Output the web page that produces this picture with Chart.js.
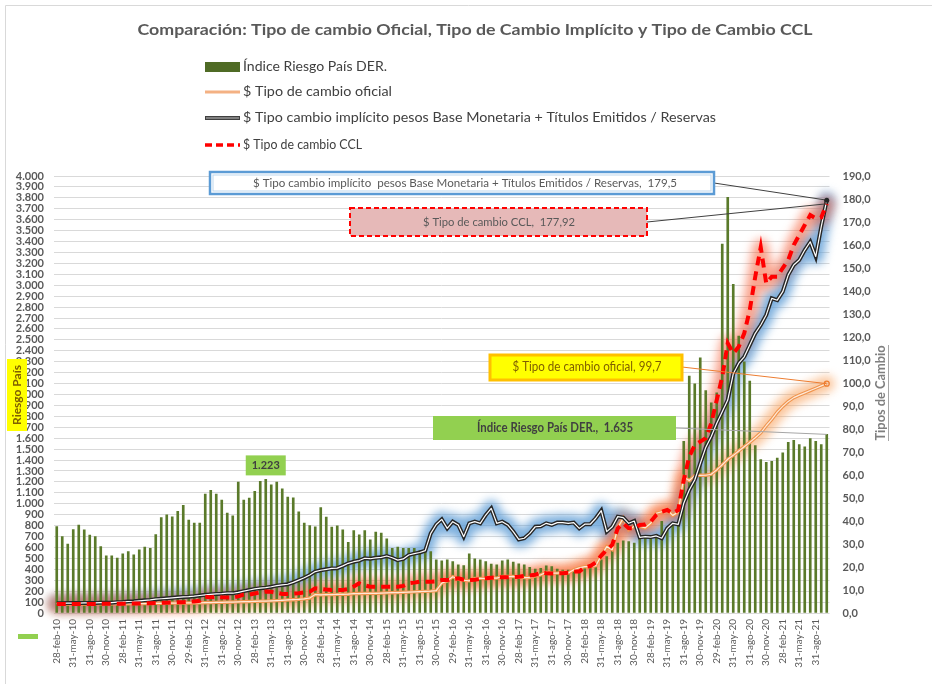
<!DOCTYPE html>
<html lang="es">
<head>
  <meta charset="UTF-8">
  <title>Comparación: Tipo de cambio Oficial, Implícito y CCL</title>
  <script src="https://cdn.jsdelivr.net/npm/chart.js@4.4.1/dist/chart.umd.min.js"></script>
  <style>
    body {
      margin: 0;
      background: #ffffff;
    }
  </style>
</head>
<body>
  <canvas id="chart" width="932" height="684"></canvas>

  <script>
    // Fechas (fin de mes)
    const fechas = [
      '28-feb-10','31-mar-10','30-abr-10','31-may-10','30-jun-10','31-jul-10','31-ago-10','30-sep-10','31-oct-10','30-nov-10','31-dic-10',
      '31-ene-11','28-feb-11','31-mar-11','30-abr-11','31-may-11','30-jun-11','31-jul-11','31-ago-11','30-sep-11','31-oct-11','30-nov-11','31-dic-11',
      '31-ene-12','29-feb-12','31-mar-12','30-abr-12','31-may-12','30-jun-12','31-jul-12','31-ago-12','30-sep-12','31-oct-12','30-nov-12','31-dic-12',
      '31-ene-13','28-feb-13','31-mar-13','30-abr-13','31-may-13','30-jun-13','31-jul-13','31-ago-13','30-sep-13','31-oct-13','30-nov-13','31-dic-13',
      '31-ene-14','28-feb-14','31-mar-14','30-abr-14','31-may-14','30-jun-14','31-jul-14','31-ago-14','30-sep-14','31-oct-14','30-nov-14','31-dic-14',
      '31-ene-15','28-feb-15','31-mar-15','30-abr-15','31-may-15','30-jun-15','31-jul-15','31-ago-15','30-sep-15','31-oct-15','30-nov-15','31-dic-15',
      '31-ene-16','29-feb-16','31-mar-16','30-abr-16','31-may-16','30-jun-16','31-jul-16','31-ago-16','30-sep-16','31-oct-16','30-nov-16','31-dic-16',
      '31-ene-17','28-feb-17','31-mar-17','30-abr-17','31-may-17','30-jun-17','31-jul-17','31-ago-17','30-sep-17','31-oct-17','30-nov-17','31-dic-17',
      '31-ene-18','28-feb-18','31-mar-18','30-abr-18','31-may-18','30-jun-18','31-jul-18','31-ago-18','30-sep-18','31-oct-18','30-nov-18','31-dic-18',
      '31-ene-19','28-feb-19','31-mar-19','30-abr-19','31-may-19','30-jun-19','31-jul-19','31-ago-19','30-sep-19','31-oct-19','30-nov-19','31-dic-19',
      '31-ene-20','29-feb-20','31-mar-20','30-abr-20','31-may-20','30-jun-20','31-jul-20','31-ago-20','30-sep-20','31-oct-20','30-nov-20','31-dic-20',
      '31-ene-21','28-feb-21','31-mar-21','30-abr-21','31-may-21','30-jun-21','31-jul-21','31-ago-21','30-sep-21','31-oct-21'
    ];

    // Índice Riesgo País DER. (eje izquierdo)
    const riesgoPais = [
      790, 700, 630, 764, 804, 761, 713, 700, 608, 523, 523,
      502, 541, 562, 532, 578, 603, 593, 718, 874, 899, 881, 930,
      985, 850, 823, 823, 1089, 1122, 1089, 1034, 914, 890, 1199, 1034,
      1052, 1113, 1205, 1223, 1174, 1199, 1137, 1061, 1055, 927, 823, 801,
      789, 966, 878, 786, 798, 761, 648, 755, 716, 755, 670, 740,
      731, 679, 593, 603, 593, 593, 593, 572, 578, 563, 486, 477,
      486, 471, 440, 434, 541, 495, 486, 471, 447, 440, 477, 486,
      465, 450, 440, 419, 401, 410, 431, 425, 401, 394, 394, 388,
      394, 410, 425, 440, 486, 517, 569, 639, 661, 654, 639, 680,
      690, 680, 720, 838, 780, 823, 800, 1572, 2168, 2098, 2336, 2037,
      1924, 2015, 3376, 3804, 3009, 2535, 2300, 2122, 1532, 1404, 1379, 1388,
      1419, 1465, 1563, 1581, 1541, 1520, 1596, 1572, 1541, 1635
    ];

    // $ Tipo de cambio oficial (eje derecho)
    const tcOficial = [
      3.86, 3.88, 3.89, 3.92, 3.93, 3.94, 3.95, 3.96, 3.96, 3.98, 3.98,
      4.01, 4.03, 4.05, 4.08, 4.09, 4.11, 4.13, 4.20, 4.21, 4.23, 4.28, 4.30,
      4.35, 4.37, 4.38, 4.42, 4.47, 4.52, 4.60, 4.65, 4.70, 4.76, 4.83, 4.92,
      4.98, 5.04, 5.12, 5.18, 5.28, 5.39, 5.51, 5.67, 5.79, 5.91, 6.14, 6.52,
      8.02, 7.88, 8.00, 8.00, 8.08, 8.13, 8.17, 8.41, 8.46, 8.50, 8.54, 8.55,
      8.64, 8.73, 8.82, 8.90, 8.99, 9.09, 9.18, 9.30, 9.42, 9.53, 9.72, 13.01,
      13.90, 15.78, 14.70, 14.25, 13.99, 15.04, 15.06, 15.00, 15.31, 15.18, 15.85, 15.85,
      15.91, 15.55, 15.39, 15.42, 16.07, 16.60, 17.67, 17.32, 17.33, 17.62, 17.40, 18.77,
      19.65, 20.14, 20.15, 20.54, 24.96, 28.85, 27.53, 37.07, 41.25, 36.16, 37.71, 37.70,
      37.04, 39.04, 43.35, 44.01, 44.87, 42.45, 43.87, 59.13, 57.59, 59.73, 59.88, 59.89,
      60.33, 62.22, 64.47, 66.84, 68.54, 70.46, 72.32, 74.19, 76.18, 78.32, 81.41, 84.15,
      87.30, 89.82, 91.99, 93.64, 94.72, 95.72, 96.71, 97.72, 98.74, 99.72
    ];

    // $ Tipo cambio implícito (Base Monetaria + Títulos Emitidos / Reservas)
    const tcImplicito = [
      4.2, 4.2, 4.3, 4.3, 4.3, 4.4, 4.4, 4.4, 4.5, 4.5, 4.5,
      4.7, 4.8, 5.0, 5.1, 5.3, 5.5, 5.7, 6.0, 6.2, 6.4, 6.6, 6.8,
      7.0, 7.1, 7.3, 7.6, 7.9, 8.1, 8.3, 8.4, 8.6, 8.6, 9.0, 9.5,
      10.0, 10.5, 10.8, 11.0, 11.4, 11.9, 12.2, 12.5, 13.3, 14.3, 15.3, 16.5,
      18.0, 18.6, 19.0, 19.4, 19.5, 20.5, 21.6, 22.3, 22.8, 23.8, 23.6, 24.0,
      24.2, 24.8, 24.0, 23.0, 23.5, 25.2, 25.8, 26.3, 27.1, 34.6, 38.5, 40.7,
      36.8, 39.7, 38.3, 33.2, 39.0, 39.7, 39.0, 42.6, 45.5, 39.0, 39.7, 38.3,
      35.4, 32.0, 32.5, 34.6, 37.5, 37.7, 39.0, 38.3, 39.3, 39.3, 39.0, 39.3,
      36.8, 38.6, 38.6, 41.2, 44.5, 35.4, 37.5, 41.9, 41.5, 39.0, 40.0, 32.9,
      33.2, 33.0, 33.5, 32.5, 36.8, 39.0, 38.5, 47.7, 53.5, 57.8, 65.0, 72.0,
      76.7, 82.5, 87.5, 92.6, 104.0, 108.6, 111.4, 116.5, 121.6, 125.2, 129.6, 136.8,
      136.0, 139.7, 147.0, 151.3, 153.5, 157.8, 161.4, 155.0, 168.0, 179.5
    ];

    // $ Tipo de cambio CCL
    const tcCCL = [
      3.9, 3.9, 3.9, 3.95, 3.95, 3.95, 3.95, 3.95, 3.97, 3.98, 3.98,
      4.0, 4.05, 4.1, 4.1, 4.15, 4.2, 4.25, 4.3, 4.4, 4.5, 4.6, 4.7,
      4.7, 4.9, 5.0, 5.3, 7.1, 6.8, 7.0, 6.8, 6.7, 6.7, 7.2, 8.0,
      8.0, 8.5, 9.0, 9.3, 9.2, 8.8, 8.3, 8.3, 8.4, 8.6, 9.0, 9.3,
      10.7, 10.5, 10.2, 10.0, 10.0, 10.0, 10.5, 11.5, 12.9, 12.0, 11.4, 11.4,
      11.4, 11.4, 11.4, 11.4, 11.8, 12.9, 13.2, 13.6, 13.6, 13.6, 13.8, 14.3,
      14.3, 14.8, 15.1, 14.5, 14.3, 14.5, 14.8, 15.1, 15.3, 15.5, 15.5, 15.5,
      15.6, 15.8, 16.1, 16.3, 16.6, 17.5, 17.3, 17.2, 17.2, 17.3, 17.5, 18.0,
      18.0, 19.9, 20.4, 22.0, 25.0, 27.5, 29.6, 36.8, 39.0, 36.8, 36.8, 38.3,
      38.5, 39.7, 42.6, 44.0, 44.8, 43.3, 44.8, 57.8, 68.0, 73.0, 74.5, 76.0,
      82.5, 92.6, 102.7, 117.3, 112.9, 115.8, 121.6, 131.7, 146.2, 159.0, 143.3, 146.2,
      146.2, 150.0, 153.5, 160.0, 164.3, 168.7, 173.0, 171.6, 172.0, 177.92
    ];

    const nombres = [
      'Índice Riesgo País DER.',
      '$ Tipo de cambio oficial',
      '$ Tipo cambio implícito pesos Base Monetaria + Títulos Emitidos / Reservas',
      '$ Tipo de cambio CCL'
    ];

    const FUENTE = 'Lato, "Liberation Sans", sans-serif';

    // texto con escala horizontal para ajustar al ancho deseado
    function texto(ctx, s, x, y, o) {
      ctx.save();
      ctx.font = (o.weight || 'normal') + ' ' + o.size + 'px ' + FUENTE;
      ctx.fillStyle = o.color || '#404040';
      ctx.textBaseline = 'middle';
      ctx.textAlign = o.align || 'center';
      ctx.translate(x, y);
      if (o.rot) ctx.rotate(o.rot);
      if (o.width) ctx.scale(o.width / ctx.measureText(s).width, 1);
      ctx.fillText(s, 0, 0);
      ctx.restore();
    }

    function miles(v) {
      return String(v).replace(/\B(?=(\d{3})+(?!\d))/g, '.');
    }

    function trazo(ctx, pts) {
      ctx.beginPath();
      pts.forEach((p, k) => k ? ctx.lineTo(p.x, p.y) : ctx.moveTo(p.x, p.y));
      ctx.stroke();
    }

    // brillo bajo las líneas y línea doble (interior blanco)
    const efectos = {
      id: 'efectos',
      beforeDatasetsDraw(chart) {
        const ctx = chart.ctx;
        chart.data.datasets.forEach((ds, i) => {
          if (!ds.brillo) return;
          ctx.save();
          ctx.filter = 'blur(5px)';
          ctx.strokeStyle = ds.brillo;
          ctx.lineWidth = 16;
          ctx.lineJoin = 'round';
          ctx.lineCap = 'round';
          trazo(ctx, chart.getDatasetMeta(i).data);
          ctx.restore();
        });
      },
      afterDatasetDraw(chart, args) {
        const ds = chart.data.datasets[args.index];
        if (!ds.interior) return;
        const ctx = chart.ctx;
        ctx.save();
        ctx.strokeStyle = ds.interior;
        ctx.lineWidth = 1.2;
        ctx.lineJoin = 'round';
        trazo(ctx, args.meta.data);
        ctx.restore();
      }
    };

    // título, leyenda, títulos de ejes y etiquetas de datos
    const adornos = {
      id: 'adornos',
      afterDraw(chart) {
        const ctx = chart.ctx;
        const x = chart.scales.x, y = chart.scales.y, y1 = chart.scales.y1;
        const n = fechas.length - 1;

        // marco
        ctx.save();
        ctx.strokeStyle = '#d9d9d9';
        ctx.lineWidth = 1;
        ctx.beginPath();
        ctx.moveTo(5.5, 684); ctx.lineTo(5.5, 5.5); ctx.lineTo(932, 5.5);
        ctx.stroke();
        ctx.restore();

        texto(ctx, 'Comparación: Tipo de cambio Oficial, Tipo de Cambio Implícito y Tipo de Cambio CCL',
          475, 30, { size: 16, weight: 'bold', color: '#595959', width: 675 });

        // leyenda
        ctx.save();
        ctx.fillStyle = '#4f6b25';
        ctx.fillRect(205, 62, 35, 10);
        ctx.lineWidth = 3;
        ctx.strokeStyle = '#f4b183';
        ctx.beginPath(); ctx.moveTo(205, 92); ctx.lineTo(240, 92); ctx.stroke();
        ctx.lineWidth = 4;
        ctx.strokeStyle = '#404040';
        ctx.beginPath(); ctx.moveTo(205, 118); ctx.lineTo(240, 118); ctx.stroke();
        ctx.lineWidth = 1.2;
        ctx.strokeStyle = '#bfbfbf';
        ctx.beginPath(); ctx.moveTo(206, 118); ctx.lineTo(239, 118); ctx.stroke();
        ctx.lineWidth = 3.5;
        ctx.strokeStyle = '#ff0000';
        ctx.setLineDash([7, 4]);
        ctx.beginPath(); ctx.moveTo(205, 145); ctx.lineTo(240, 145); ctx.stroke();
        ctx.restore();
        const anchosLeyenda = [144, 149, 473, 119];
        [67, 92, 118, 145].forEach((yy, k) => {
          texto(ctx, nombres[k], 243, yy, { size: 13, color: '#404040', align: 'left', width: anchosLeyenda[k] });
        });

        // títulos de ejes
        ctx.save();
        ctx.fillStyle = '#ffff00';
        ctx.fillRect(7, 359, 20, 72);
        ctx.restore();
        texto(ctx, 'Riesgo País', 17, 395, { size: 12, weight: 'bold', color: '#7f6000', rot: -Math.PI / 2, width: 60 });
        texto(ctx, 'Tipos de Cambio', 881, 393, { size: 13, weight: 'bold', color: '#7f7f7f', rot: -Math.PI / 2, width: 95 });
        ctx.save();
        ctx.strokeStyle = '#a6a6a6';
        ctx.lineWidth = 1;
        ctx.beginPath(); ctx.moveTo(888.5, 345); ctx.lineTo(888.5, 441); ctx.stroke();
        ctx.restore();

        // puntos finales
        const xf = x.getPixelForValue(n);
        const pImp = { x: xf, y: y1.getPixelForValue(tcImplicito[n]) };
        const pCcl = { x: xf, y: y1.getPixelForValue(tcCCL[n]) };
        const pOfi = { x: xf, y: y1.getPixelForValue(tcOficial[n]) };
        const pRie = { x: xf, y: y.getPixelForValue(riesgoPais[n]) };

        // líneas guía
        const guia = (x0, y0, p, color) => {
          ctx.save();
          ctx.strokeStyle = color;
          ctx.lineWidth = 1;
          ctx.beginPath(); ctx.moveTo(x0, y0); ctx.lineTo(p.x, p.y); ctx.stroke();
          ctx.restore();
        };
        guia(714, 183, pImp, '#404040');
        guia(647, 222, pCcl, '#404040');
        guia(682, 367, pOfi, '#ed7d31');
        guia(676, 428, pRie, '#a6a6a6');

        ctx.save();
        ctx.fillStyle = '#262626';
        ctx.beginPath(); ctx.arc(pImp.x, pImp.y, 2.5, 0, Math.PI * 2); ctx.fill();
        ctx.strokeStyle = '#ed7d31';
        ctx.lineWidth = 1.2;
        ctx.beginPath(); ctx.arc(pOfi.x, pOfi.y, 2.5, 0, Math.PI * 2); ctx.stroke();
        ctx.restore();

        // etiqueta implícito
        ctx.save();
        ctx.fillStyle = '#ffffff';
        ctx.fillRect(210, 172, 504, 22);
        ctx.strokeStyle = '#5b9bd5';
        ctx.lineWidth = 2.5;
        ctx.strokeRect(210, 172, 504, 22);
        ctx.strokeStyle = '#bdd7ee';
        ctx.lineWidth = 1;
        ctx.strokeRect(213, 175, 498, 16);
        ctx.restore();
        texto(ctx, '$ Tipo cambio implícito  pesos Base Monetaria + Títulos Emitidos / Reservas,  ' +
          tcImplicito[n].toFixed(1).replace('.', ','), 465, 183, { size: 12, color: '#595959', width: 424 });

        // etiqueta CCL
        ctx.save();
        ctx.fillStyle = '#e6b9b8';
        ctx.fillRect(350, 208, 297, 28);
        ctx.strokeStyle = '#ff0000';
        ctx.lineWidth = 2;
        ctx.setLineDash([5, 3]);
        ctx.strokeRect(350, 208, 297, 28);
        ctx.restore();
        texto(ctx, '$ Tipo de cambio CCL,  ' + tcCCL[n].toFixed(2).replace('.', ','), 499, 222,
          { size: 12, color: '#595959', width: 152 });

        // etiqueta oficial
        ctx.save();
        ctx.fillStyle = '#ffff00';
        ctx.fillRect(490, 355, 192, 25);
        ctx.strokeStyle = '#ffc000';
        ctx.lineWidth = 3;
        ctx.strokeRect(490, 355, 192, 25);
        ctx.restore();
        texto(ctx, '$ Tipo de cambio oficial, ' + tcOficial[n].toFixed(1).replace('.', ','), 587, 367,
          { size: 12.5, color: '#7f6000', width: 149 });

        // etiqueta riesgo país
        ctx.save();
        ctx.fillStyle = '#92d050';
        ctx.fillRect(433, 416, 243, 24);
        ctx.restore();
        texto(ctx, 'Índice Riesgo País DER.,  ' + miles(riesgoPais[n]), 555, 428,
          { size: 12.5, weight: 'bold', color: '#404040', width: 156 });

        // etiqueta máximo 2013
        const im = riesgoPais.indexOf(1223);
        const xm = x.getPixelForValue(im);
        const ym = y.getPixelForValue(riesgoPais[im]);
        ctx.save();
        ctx.fillStyle = '#92d050';
        ctx.fillRect(xm - 20, ym - 24, 40, 20);
        ctx.restore();
        texto(ctx, miles(riesgoPais[im]), xm, ym - 14, { size: 12, weight: 'bold', color: '#404040', width: 28 });

        // marca verde abajo a la izquierda
        ctx.save();
        ctx.fillStyle = '#92d050';
        ctx.fillRect(18, 634, 20, 5);
        ctx.restore();
      }
    };

    const ctx = document.getElementById('chart').getContext('2d');
    new Chart(ctx, {
      type: 'bar',
      data: {
        labels: fechas,
        datasets: [
          {
            type: 'bar',
            label: nombres[0],
            data: riesgoPais,
            yAxisID: 'y',
            backgroundColor: '#5a7a2a',
            barThickness: 2,
            order: 10
          },
          {
            type: 'line',
            label: nombres[1],
            data: tcOficial,
            yAxisID: 'y1',
            borderColor: '#f0954f',
            borderWidth: 3.4,
            pointRadius: 0,
            tension: 0,
            interior: '#fde9d9',
            brillo: 'rgba(248,160,90,0.6)',
            order: 3
          },
          {
            type: 'line',
            label: nombres[2],
            data: tcImplicito,
            yAxisID: 'y1',
            borderColor: '#262626',
            borderWidth: 4,
            pointRadius: 0,
            tension: 0,
            interior: '#ffffff',
            brillo: 'rgba(91,155,213,0.8)',
            order: 2
          },
          {
            type: 'line',
            label: nombres[3],
            data: tcCCL,
            yAxisID: 'y1',
            borderColor: '#ff0000',
            borderWidth: 4,
            borderDash: [9, 6],
            pointRadius: 0,
            tension: 0,
            brillo: 'rgba(245,90,50,0.55)',
            order: 1
          }
        ]
      },
      options: {
        responsive: false,
        animation: false,
        layout: { padding: { top: 176, left: 0, right: 0, bottom: 0 } },
        plugins: {
          legend: { display: false },
          tooltip: { enabled: false }
        },
        scales: {
          x: {
            offset: true,
            grid: { display: false, drawTicks: false },
            border: { display: false },
            ticks: {
              autoSkip: false,
              maxRotation: 90,
              minRotation: 90,
              padding: 6,
              color: '#595959',
              font: { family: FUENTE, size: 10 },
              callback: (v, i) => i % 3 === 0 ? fechas[i] : ''
            },
            afterFit: s => { s.height = 71; }
          },
          y: {
            position: 'left',
            min: 0,
            max: 4000,
            grid: { color: '#d9d9d9', drawTicks: false },
            border: { display: false },
            ticks: {
              autoSkip: false,
              stepSize: 100,
              padding: 10,
              color: '#595959',
              font: { family: FUENTE, size: 11, weight: 'bold' },
              callback: v => miles(v)
            },
            afterFit: s => { s.width = 54; }
          },
          y1: {
            position: 'right',
            min: 0,
            max: 190,
            grid: { display: false, drawTicks: false },
            border: { display: false },
            ticks: {
              autoSkip: false,
              stepSize: 10,
              padding: 13,
              color: '#595959',
              font: { family: FUENTE, size: 11, weight: 'bold' },
              callback: v => v.toFixed(1).replace('.', ',')
            },
            afterFit: s => { s.width = 102.5; }
          }
        }
      },
      plugins: [efectos, adornos]
    });
  </script>
</body>
</html>
